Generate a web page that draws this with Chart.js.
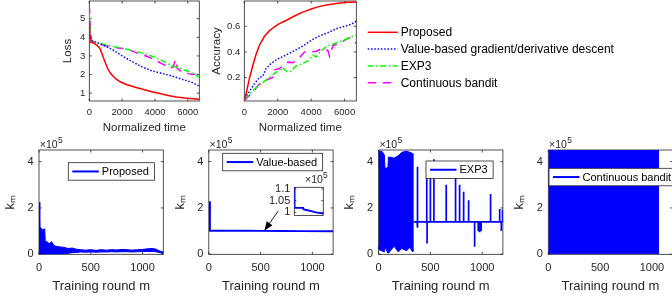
<!DOCTYPE html>
<html lang="en">
<head>
  <meta charset="UTF-8"/>
  <title>Loss, accuracy and k_m per training round</title>
  <script src="https://cdn.jsdelivr.net/npm/chart.js"></script>
  <style>
    html, body { margin: 0; padding: 0; background: #fff; }
    #fig { position: relative; width: 672px; height: 302px; overflow: hidden; background: #fff; }
    #fig canvas { position: absolute; }
  </style>
</head>
<body>
  <div id="fig">
    <canvas id="loss" width="206" height="152" style="left:0px;top:-12px"></canvas>
    <canvas id="acc" width="466" height="152" style="left:206px;top:-12px"></canvas>
    <canvas id="km1" width="170" height="172" style="left:0px;top:130px"></canvas>
    <canvas id="km2" width="170" height="172" style="left:170px;top:130px"></canvas>
    <canvas id="km3" width="170" height="172" style="left:339px;top:130px"></canvas>
    <canvas id="km4" width="170" height="172" style="left:509px;top:130px"></canvas>
    <canvas id="inset" width="80" height="56" style="left:250px;top:170px"></canvas>
  </div>

  <script>
    // ---- top row: loss / accuracy vs normalized time ----
    const lossTimeProposed = [0, 50, 300, 500, 650, 800, 950, 1100, 1300, 1600, 1900, 2300, 2800, 3300, 3800, 4300, 4800, 5300, 5800, 6300, 6700];
    const lossProposed = [4.9, 3.75, 3.68, 3.55, 3.4, 3.05, 2.7, 2.35, 2.05, 1.78, 1.6, 1.45, 1.32, 1.2, 1.08, 0.98, 0.88, 0.8, 0.74, 0.7, 0.67];
    const lossTimeValue = [0, 80, 300, 800, 1400, 2000, 2600, 3200, 3800, 4400, 5000, 5600, 6200, 6700];
    const lossValue = [4.5, 3.85, 3.78, 3.6, 3.35, 3.0, 2.7, 2.42, 2.2, 2.07, 1.93, 1.76, 1.6, 1.38];
    const lossTimeExp3 = [0, 60, 150, 500, 1000, 1500, 2000, 2500, 3000, 3500, 4000, 4500, 5000, 5500, 6000, 6400, 6700];
    const lossExp3 = [5.3, 4.2, 3.78, 3.7, 3.6, 3.5, 3.42, 3.32, 3.2, 3.08, 2.92, 2.72, 2.48, 2.34, 2.18, 2.02, 1.86];
    const lossTimeBandit = [0, 60, 150, 500, 1000, 1500, 2000, 2500, 3000, 3500, 4000, 4500, 4900, 5100, 5250, 5350, 5600, 6000, 6300, 6500, 6700];
    const lossBandit = [5.7, 4.5, 3.8, 3.65, 3.55, 3.47, 3.4, 3.3, 3.12, 2.98, 2.78, 2.55, 2.35, 2.4, 2.8, 2.35, 2.15, 2.05, 2.0, 2.05, 2.1];

    const accTimeProposed = [0, 100, 300, 500, 700, 900, 1200, 1500, 1800, 2100, 2500, 3000, 3500, 4000, 4500, 5000, 5500, 6000, 6700];
    const accProposed = [0.03, 0.07, 0.19, 0.29, 0.38, 0.45, 0.52, 0.565, 0.595, 0.62, 0.645, 0.68, 0.71, 0.735, 0.755, 0.768, 0.778, 0.785, 0.79];
    const accTimeValue = [0, 300, 600, 900, 1100, 1300, 1600, 2000, 2500, 3000, 3500, 4000, 4500, 5000, 5500, 6000, 6400, 6700];
    const accValue = [0.04, 0.09, 0.15, 0.2, 0.21, 0.27, 0.31, 0.345, 0.375, 0.41, 0.445, 0.49, 0.525, 0.55, 0.58, 0.6, 0.615, 0.64];
    const accTimeExp3 = [0, 300, 600, 900, 1200, 1500, 1800, 2100, 2300, 2600, 2800, 3100, 3500, 3800, 4100, 4300, 4600, 5000, 5400, 5800, 6200, 6700];
    const accExp3 = [0.03, 0.07, 0.11, 0.14, 0.17, 0.2, 0.23, 0.26, 0.275, 0.24, 0.25, 0.29, 0.31, 0.33, 0.375, 0.36, 0.41, 0.45, 0.465, 0.485, 0.505, 0.535];
    const accTimeBandit = [0, 300, 600, 900, 1200, 1500, 1700, 1800, 2100, 2400, 2600, 2900, 3200, 3600, 4000, 4300, 4700, 5000, 5100, 5300, 5700, 6000, 6300, 6500, 6700];
    const accBandit = [0.02, 0.06, 0.1, 0.15, 0.175, 0.19, 0.2, 0.26, 0.27, 0.3, 0.32, 0.315, 0.34, 0.4, 0.4, 0.405, 0.43, 0.41, 0.365, 0.45, 0.47, 0.49, 0.51, 0.5, 0.465];

    const timeTicks = [0, 2000, 4000, 6000];
    const lossTicks = [1, 2, 3, 4, 5];
    const accTicks = [0.2, 0.4, 0.6];

    // ---- bottom row: k_m vs training round m ----
    // dense oscillations are kept as upper / lower envelopes
    const proposedRounds = [0, 6, 9, 15, 35, 55, 60, 70, 90, 100, 120, 140, 160, 200, 240, 280, 320, 360, 400, 450, 500, 550, 600, 650, 700, 750, 800, 850, 900, 950, 1000, 1050, 1100, 1130, 1160, 1200];
    const proposedUpper = [225000, 225000, 110000, 115000, 105000, 110000, 60000, 55000, 50000, 45000, 55000, 40000, 35000, 32000, 30000, 25000, 27000, 22000, 20000, 18000, 20000, 17000, 20000, 18000, 20000, 19000, 21000, 20000, 18000, 20000, 21000, 24000, 25000, 22000, 15000, 10000];
    const proposedLower = [0, 0, 0, 0, 0, 0, 0, 0, 0, 0, 0, 0, 0, 0, 1000, 4000, 7000, 8000, 10000, 9000, 10000, 9000, 10000, 10000, 11000, 10000, 11000, 11000, 10000, 11000, 12000, 12000, 12000, 11000, 8000, 3000];

    const valueRounds = [0, 10, 11, 370, 380, 500, 700, 900, 1200];
    const valueKm = [225000, 225000, 101900, 101900, 101300, 101000, 100500, 100000, 99500];

    const exp3Rounds = [0, 3, 30, 55, 62, 90, 95, 150, 190, 223, 271, 300, 330, 340];
    const exp3Upper = [380000, 445000, 445000, 430000, 370000, 375000, 420000, 415000, 425000, 440000, 445000, 440000, 435000, 430000];
    const exp3Lower = [35000, 20000, 15000, 10000, 30000, 5000, 5000, 35000, 10000, 25000, 15000, 30000, 10000, 20000];
    const exp3Baseline = 140000;
    const exp3TailRounds = [340, 1200];
    const exp3SpikeRounds = [372, 378, 465, 468, 500, 534, 653, 743, 782, 821, 869, 927, 962, 976, 990, 1081, 1165, 1172, 1185, 1195];
    const exp3SpikeValues = [378000, 115000, 375000, 47000, 339000, 410000, 300000, 360000, 300000, 270000, 233000, 33000, 99000, 95000, 100000, 260000, 193000, 195000, 100000, 193000];

    const banditRounds = [0, 1070];
    const banditUpper = [450000, 450000];
    const banditLower = [2000, 2000];

    const roundTicks = [0, 500, 1000];
    const kmTicks = [0, 200000, 400000];
    const insetTicks = [100000, 105000, 110000];

    // ---- styles ----
    const FONT = '"Liberation Sans", Arial, Helvetica, sans-serif';
    const INK = '#262626';
    Chart.defaults.font.family = FONT;
    Chart.defaults.color = INK;

    const pts = (xs, ys) => xs.map((x, i) => ({ x, y: ys[i] }));
    const useTicks = values => s => { s.ticks = values.map(v => ({ value: v })); };

    // box + inward ticks, MATLAB style
    const frame = {
      id: 'frame',
      beforeDatasetsDraw(chart, args, o) {
        const { ctx, chartArea: a, scales } = chart;
        ctx.save();
        if (o.fill) { ctx.fillStyle = o.fill; ctx.fillRect(a.left, a.top, a.width, a.height); }
        ctx.strokeStyle = INK;
        ctx.lineWidth = 0.8;
        ctx.strokeRect(a.left, a.top, a.width, a.height);
        const len = o.tick || 2.5;
        ctx.beginPath();
        if (!o.noX) scales.x.ticks.forEach(t => {
          const px = scales.x.getPixelForValue(t.value);
          ctx.moveTo(px, a.bottom); ctx.lineTo(px, a.bottom - len);
          ctx.moveTo(px, a.top); ctx.lineTo(px, a.top + len);
        });
        scales.y.ticks.forEach(t => {
          const py = scales.y.getPixelForValue(t.value);
          ctx.moveTo(a.left, py); ctx.lineTo(a.left + len, py);
          ctx.moveTo(a.right, py); ctx.lineTo(a.right - len, py);
        });
        ctx.stroke();
        ctx.restore();
      }
    };

    // the "x10^5" multiplier above the y axis
    const exponent = {
      id: 'exponent',
      afterDraw(chart, args, o) {
        if (!o.show) return;
        const { ctx, chartArea: a } = chart;
        const x = a.left + o.dx, y = a.top - o.dy;
        ctx.save();
        ctx.fillStyle = INK;
        ctx.textBaseline = 'alphabetic';
        ctx.font = o.size + 'px ' + FONT;
        ctx.fillText('×10', x, y);
        const w = ctx.measureText('×10').width;
        ctx.font = (o.size * 0.8) + 'px ' + FONT;
        ctx.fillText('5', x + w + 0.3, y - o.size * 0.48);
        ctx.restore();
      }
    };

    // legend placed at a given offset from the plot area
    const boxLegend = {
      id: 'boxLegend',
      afterDraw(chart, args, o) {
        if (!o.show) return;
        const { ctx, chartArea: a } = chart;
        const items = chart.data.datasets.filter(d => d.label);
        ctx.save();
        ctx.font = o.size + 'px ' + FONT;
        const textW = Math.max(...items.map(d => ctx.measureText(d.label).width));
        const x0 = a.left + o.dx, y0 = a.top + o.dy;
        if (o.boxed) {
          const w = o.padL + o.line + o.gap + textW + o.padR;
          const h = items.length * o.row;
          ctx.fillStyle = '#fff';
          ctx.fillRect(x0, y0, w, h);
          ctx.strokeStyle = INK;
          ctx.lineWidth = 0.8;
          ctx.strokeRect(x0, y0, w, h);
        }
        items.forEach((d, i) => {
          const cy = y0 + o.row * (i + 0.5);
          ctx.strokeStyle = d.borderColor;
          ctx.lineWidth = o.lineWidth || d.borderWidth;
          ctx.setLineDash(d.borderDash || []);
          ctx.beginPath();
          ctx.moveTo(x0 + o.padL, cy);
          ctx.lineTo(x0 + o.padL + o.line, cy);
          ctx.stroke();
          ctx.setLineDash([]);
          ctx.fillStyle = '#000';
          ctx.textBaseline = 'middle';
          ctx.fillText(d.label, x0 + o.padL + o.line + o.gap, cy + 0.5);
        });
        ctx.restore();
      }
    };

    // annotation arrow in data coordinates
    const arrow = {
      id: 'arrow',
      afterDatasetsDraw(chart, args, o) {
        if (!o.from) return;
        const { ctx, scales: { x, y } } = chart;
        const x1 = x.getPixelForValue(o.from[0]), y1 = y.getPixelForValue(o.from[1]);
        const x2 = x.getPixelForValue(o.to[0]), y2 = y.getPixelForValue(o.to[1]);
        const ang = Math.atan2(y2 - y1, x2 - x1), c = Math.cos(ang), s = Math.sin(ang);
        const L = 9, W = 3.5;
        ctx.save();
        ctx.strokeStyle = '#000';
        ctx.fillStyle = '#000';
        ctx.lineWidth = 0.9;
        ctx.beginPath();
        ctx.moveTo(x1, y1);
        ctx.lineTo(x2 - L * c, y2 - L * s);
        ctx.stroke();
        ctx.beginPath();
        ctx.moveTo(x2, y2);
        ctx.lineTo(x2 - L * c + W * s, y2 - L * s - W * c);
        ctx.lineTo(x2 - L * c - W * s, y2 - L * s + W * c);
        ctx.closePath();
        ctx.fill();
        ctx.restore();
      }
    };

    Chart.register(frame, exponent, boxLegend, arrow);

    function lineSet(label, xs, ys, color, dash, width) {
      return { label, data: pts(xs, ys), borderColor: color, backgroundColor: color,
        borderWidth: width || 1.5, borderDash: dash || [], pointRadius: 0, fill: false, tension: 0 };
    }
    function bandSets(label, xs, hi, lo, color) {
      return [
        { label, data: pts(xs, hi), borderColor: color, backgroundColor: color, borderWidth: 1, pointRadius: 0, fill: '+1' },
        { data: pts(xs, lo), borderColor: color, backgroundColor: color, borderWidth: 1, pointRadius: 0, fill: false }
      ];
    }

    function scaleSet(c) {
      const x = {
        type: 'linear', min: c.xMin, max: c.xMax, display: c.xShow !== false,
        grid: { display: false, drawTicks: false }, border: { display: false },
        ticks: { padding: c.xTickPad, maxRotation: 0, autoSkip: false,
          font: { size: c.tickSize }, color: INK, callback: v => String(v) },
        title: { display: !!c.xTitle, text: c.xTitle, font: { size: c.titleSize }, color: INK,
          padding: { top: 0, bottom: c.xTitlePad } }
      };
      if (c.xTicks) x.afterBuildTicks = useTicks(c.xTicks);
      if (c.xHeight) x.afterFit = s => { s.height = c.xHeight; };
      const y = {
        type: 'linear', min: c.yMin, max: c.yMax,
        grid: { display: false, drawTicks: false }, border: { display: false },
        ticks: { padding: c.yTickPad, autoSkip: false,
          font: { size: c.tickSize }, color: INK, callback: c.yFmt || (v => String(v)) },
        title: { display: !!c.yTitle, text: c.yTitle, font: { size: c.titleSize }, color: INK,
          padding: { top: c.yTitlePad, bottom: 0 } },
        afterBuildTicks: useTicks(c.yTicks),
        afterFit: s => { s.width = c.yWidth; }
      };
      return { x, y };
    }

    function panel(id, datasets, c) {
      return new Chart(document.getElementById(id), {
        type: 'line',
        data: { datasets },
        options: {
          responsive: false, animation: false, devicePixelRatio: 1, events: [],
          layout: { padding: { left: 0, top: c.top, right: c.right, bottom: c.bottom || 0 } },
          scales: scaleSet(c),
          plugins: {
            legend: { display: false }, tooltip: { enabled: false },
            frame: c.frame || {}, exponent: c.exponent || {}, boxLegend: c.legend || {}, arrow: c.arrow || {}
          }
        }
      });
    }

    const RED = '#ff0000', BLUE = '#0000ff', GREEN = '#00ff00', MAGENTA = '#ff00ff';
    const DOT = [1.5, 1.8], DASHDOT = [6, 2.5, 1.5, 2.5], DASH = [8.5, 6.5];

    const topAxes = { xMin: 0, xMax: 6700, xTicks: timeTicks, tickSize: 9.5, titleSize: 11.5, xTitle: 'Normalized time',
      xTickPad: 5.3, yTickPad: 4, xTitlePad: 4.8, xHeight: 39, top: 13 };

    panel('loss', [
      lineSet('Proposed', lossTimeProposed, lossProposed, RED),
      lineSet('Value-based gradient/derivative descent', lossTimeValue, lossValue, BLUE, DOT),
      lineSet('EXP3', lossTimeExp3, lossExp3, GREEN, DASHDOT),
      lineSet('Continuous bandit', lossTimeBandit, lossBandit, MAGENTA, DASH)
    ], Object.assign({}, topAxes, { yMin: 0.58, yMax: 5.95, yTicks: lossTicks, yTitle: 'Loss', yTitlePad: 61.4, yWidth: 89.3, right: 6.7 }));

    panel('acc', [
      lineSet('Proposed', accTimeProposed, accProposed, RED),
      lineSet('Value-based gradient/derivative descent', accTimeValue, accValue, BLUE, DOT),
      lineSet('EXP3', accTimeExp3, accExp3, GREEN, DASHDOT),
      lineSet('Continuous bandit', accTimeBandit, accBandit, MAGENTA, DASH)
    ], Object.assign({}, topAxes, { yMin: 0.017, yMax: 0.797, yTicks: accTicks, yTitle: 'Accuracy', yTitlePad: 3.8, yWidth: 38.3, right: 315.7,
      legend: { show: true, boxed: false, dx: 123.4, dy: 22.9, row: 16.8, padL: 0, line: 30, gap: 3, padR: 0, size: 12 } }));

    const kmAxes = { xMin: 0, xMax: 1200, xTicks: roundTicks, yMin: 0, yMax: 450000, yTicks: kmTicks,
      tickSize: 11, titleSize: 13, xTitle: 'Training round m', yTitle: 'kₘ',
      xTickPad: 7, yTickPad: 5.5, xTitlePad: 7.5, yTitlePad: 2.5, xHeight: 47.7, top: 20,
      yFmt: v => String(v / 1e5), exponent: { show: true, dx: 0.8, dy: 1.7, size: 10.5 } };
    const kmLegend = { show: true, boxed: true, row: 17.5, padL: 4, line: 26.5, gap: 3, padR: 5.5, size: 11, lineWidth: 2 };
    const kmPanel = (yWidth, extra) => Object.assign({}, kmAxes, { yWidth, right: 170 - yWidth - 124.3 }, extra);

    panel('km1', bandSets('Proposed', proposedRounds, proposedUpper, proposedLower, BLUE),
      kmPanel(39, { legend: Object.assign({}, kmLegend, { dx: 29.3, dy: 12.7 }) }));

    panel('km2', [lineSet('Value-based', valueRounds, valueKm, BLUE, null, 1.9)],
      kmPanel(38.8, { legend: Object.assign({}, kmLegend, { dx: 13.9, dy: 3.3 }),
        arrow: { from: [671, 187000], to: [536, 102000] } }));

    const exp3Tail = [{ x: exp3TailRounds[0], y: exp3Baseline }];
    exp3SpikeRounds.forEach((r, i) => {
      exp3Tail.push({ x: r, y: exp3Baseline }, { x: r, y: exp3SpikeValues[i] }, { x: r, y: exp3Baseline });
    });
    exp3Tail.push({ x: exp3TailRounds[1], y: exp3Baseline });
    const exp3Sets = bandSets('EXP3', exp3Rounds, exp3Upper, exp3Lower, BLUE);
    exp3Sets.push({ data: exp3Tail, borderColor: BLUE, borderWidth: 1.7, pointRadius: 0, fill: false, tension: 0 });
    panel('km3', exp3Sets, kmPanel(39.6, { legend: Object.assign({}, kmLegend, { dx: 47.4, dy: 11 }) }));

    panel('km4', bandSets('Continuous bandit', banditRounds, banditUpper, banditLower, BLUE),
      kmPanel(39.3, { legend: Object.assign({}, kmLegend, { dx: 0.7, dy: 18.3 }) }));

    // zoomed inset of the value-based curve
    panel('inset', [lineSet(undefined, valueRounds, valueKm, BLUE, null, 1.9)], {
      xMin: 0, xMax: 1200, xShow: false, yMin: 98700, yMax: 110700, yTicks: insetTicks,
      tickSize: 11, yTickPad: 4, yWidth: 44.3, top: 17.3, right: 6.7, bottom: 10.3,
      yFmt: v => String(v / 1e5),
      frame: { tick: 2, fill: '#fff', noX: true },
      exponent: { show: true, dx: 10.7, dy: 4, size: 10.5 }
    });
  </script>
</body>
</html>
